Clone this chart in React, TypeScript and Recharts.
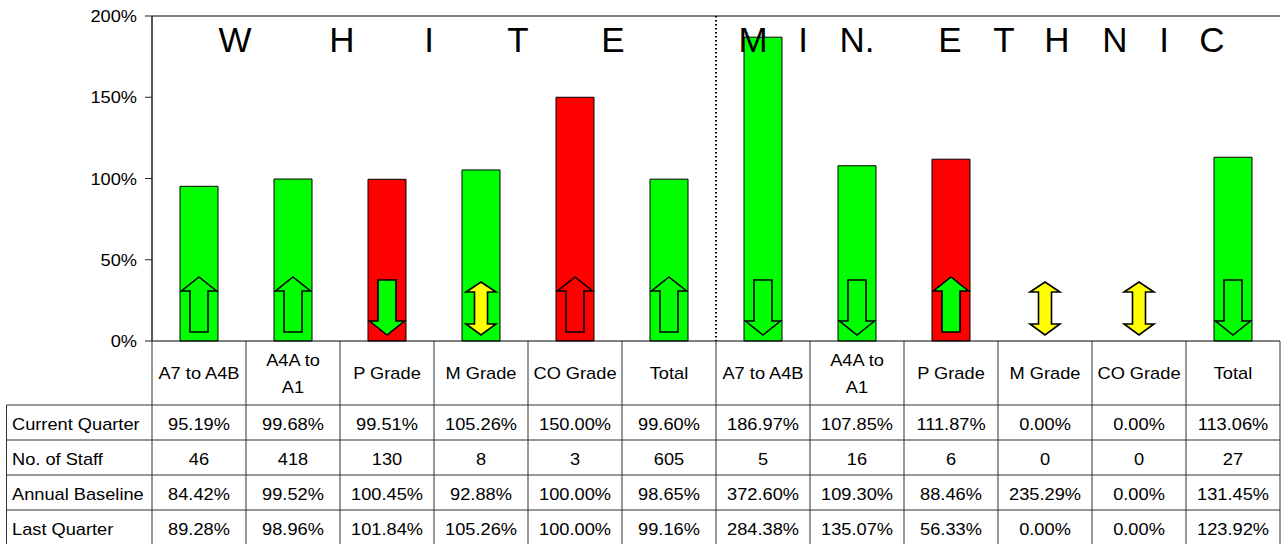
import React from 'react';
import { ComposedChart, Bar, Cell, Scatter, XAxis, YAxis, ReferenceLine } from 'recharts';

// ---------- data ----------
const categories = [
  'A7 to A4B', 'A4A to A1', 'P Grade', 'M Grade', 'CO Grade', 'Total',
  'A7 to A4B', 'A4A to A1', 'P Grade', 'M Grade', 'CO Grade', 'Total',
];
const currentQuarter = [95.19, 99.68, 99.51, 105.26, 150.0, 99.6, 186.97, 107.85, 111.87, 0.0, 0.0, 113.06];
const noOfStaff = [46, 418, 130, 8, 3, 605, 5, 16, 6, 0, 0, 27];
const annualBaseline = [84.42, 99.52, 100.45, 92.88, 100.0, 98.65, 372.6, 109.3, 88.46, 235.29, 0.0, 131.45];
const lastQuarter = [89.28, 98.96, 101.84, 105.26, 100.0, 99.16, 284.38, 135.07, 56.33, 0.0, 0.0, 123.92];
const barStatus = ['green', 'green', 'red', 'green', 'red', 'green', 'green', 'green', 'red', 'none', 'none', 'green'];
const arrowDirection = ['up', 'up', 'down', 'both', 'up', 'up', 'down', 'down', 'up', 'both', 'both', 'down'];
const arrowStatus = ['green', 'green', 'green', 'yellow', 'red', 'green', 'green', 'green', 'green', 'yellow', 'yellow', 'green'];
const yTicks = [0, 50, 100, 150, 200];
const rowLabels = ['Current Quarter', 'No. of Staff', 'Annual Baseline', 'Last Quarter'];
const groupWhite = ['W', 'H', 'I', 'T', 'E'];
const groupEthnic = ['M', 'I', 'N.', 'E', 'T', 'H', 'N', 'I', 'C'];

// ---------- styling / layout ----------
const FONT = "Arial, 'Liberation Sans', sans-serif";
const COLORS: Record<string, string> = { green: '#00FF00', red: '#FF0000', yellow: '#FFFF00' };
const W = 1282;
const H = 544;
const PLOT_LEFT = 152;
const PLOT_RIGHT = 1280;
const PLOT_TOP = 16;
const AXIS_Y = 341;
const BAND = (PLOT_RIGHT - PLOT_LEFT) / categories.length;
const HEADER_BOTTOM = 405;
const ROW_LINES = [405, 440, 475, 510, 545];
const TABLE_LEFT = 6.5;
const LINE = '#303030';
const STRETCH = 1.14;
const WHITE_X = [235, 342, 429, 518, 613];
const ETHNIC_X = [753, 803, 857, 950, 1004, 1057, 1115, 1164, 1212];
const WRAP: Record<string, string[]> = { 'A4A to A1': ['A4A to', 'A1'] };

const data = categories.map((c, i) => ({
  id: String(i),
  idx: i,
  label: c,
  current: currentQuarter[i],
  arrowBase: 0,
}));

const pct = (v: number) => `${v.toFixed(2)}%`;

function rowValues(i: number): string[] {
  return [pct(currentQuarter[i]), String(noOfStaff[i]), pct(annualBaseline[i]), pct(lastQuarter[i])];
}

// horizontally stretched text, like the reference rendering
const ST = ({ x, y, anchor = 'middle', children }: any) => (
  <text
    transform={`translate(${x},${y}) scale(${STRETCH},1)`}
    x={0}
    y={0}
    textAnchor={anchor}
    fontSize={16}
    fontFamily={FONT}
    fill="#000"
  >
    {children}
  </text>
);

const YTick = (props: any) => {
  const { x, y, payload } = props;
  return <ST x={x} y={y + 6} anchor="end">{`${payload.value}%`}</ST>;
};

const TableTick = (props: any) => {
  const { x, payload } = props;
  const i = Number(payload?.value ?? props.index);
  const left = x - BAND / 2;
  const right = x + BAND / 2;
  const label = categories[i];
  const lines = WRAP[label] || [label];
  const vals = rowValues(i);
  const els: any[] = [];

  els.push(<line key="vl" x1={left} y1={AXIS_Y} x2={left} y2={ROW_LINES[4]} stroke={LINE} strokeWidth={1} />);
  if (i === categories.length - 1) {
    els.push(<line key="vr" x1={right} y1={AXIS_Y} x2={right} y2={ROW_LINES[4]} stroke={LINE} strokeWidth={1} />);
  }
  ROW_LINES.forEach((ry, k) => {
    els.push(<line key={'h' + k} x1={left} y1={ry} x2={right} y2={ry} stroke={LINE} strokeWidth={1} />);
  });
  const headerMid = (AXIS_Y + HEADER_BOTTOM) / 2;
  if (lines.length === 1) {
    els.push(<ST key="hd" x={x} y={headerMid + 6}>{lines[0]}</ST>);
  } else {
    lines.forEach((ln, k) => {
      els.push(<ST key={'hd' + k} x={x} y={headerMid - 7 + k * 27}>{ln}</ST>);
    });
  }
  vals.forEach((v, k) => {
    const mid = (ROW_LINES[k] + ROW_LINES[k + 1]) / 2;
    els.push(<ST key={'v' + k} x={x} y={mid + 7}>{v}</ST>);
  });

  if (i === 0) {
    els.push(<line key="tl" x1={TABLE_LEFT} y1={HEADER_BOTTOM} x2={TABLE_LEFT} y2={ROW_LINES[4]} stroke={LINE} strokeWidth={1} />);
    ROW_LINES.forEach((ry, k) => {
      els.push(<line key={'lh' + k} x1={TABLE_LEFT} y1={ry} x2={left} y2={ry} stroke={LINE} strokeWidth={1} />);
    });
    rowLabels.forEach((r, k) => {
      const mid = (ROW_LINES[k] + ROW_LINES[k + 1]) / 2;
      els.push(<ST key={'rl' + k} x={12} y={mid + 7} anchor="start">{r}</ST>);
    });
    groupWhite.forEach((ch, k) => {
      els.push(
        <text key={'gw' + k} x={WHITE_X[k]} y={52} textAnchor="middle" fontSize={35} fontFamily={FONT} fill="#000">
          {ch}
        </text>
      );
    });
  }
  if (i === 6) {
    els.push(
      <line key="sep" x1={left} y1={PLOT_TOP} x2={left} y2={AXIS_Y} stroke="#000" strokeWidth={2} strokeDasharray="1.5 2.5" />
    );
    groupEthnic.forEach((ch, k) => {
      els.push(
        <text key={'ge' + k} x={ETHNIC_X[k]} y={52} textAnchor="middle" fontSize={35} fontFamily={FONT} fill="#000">
          {ch}
        </text>
      );
    });
  }
  return <g>{els}</g>;
};

const ArrowShape = (props: any) => {
  const { cx, cy, payload } = props;
  if (cx == null || cy == null || !payload) return <g />;
  const i = payload.idx;
  const dir = arrowDirection[i];
  const fill = COLORS[arrowStatus[i]];
  const b = cy;
  let d = '';
  if (dir === 'up') {
    const hw = 17.5, sw = 9;
    d = `M${cx},${b - 64} L${cx + hw},${b - 50} L${cx + sw},${b - 50} L${cx + sw},${b - 9} L${cx - sw},${b - 9} L${cx - sw},${b - 50} L${cx - hw},${b - 50} Z`;
  } else if (dir === 'down') {
    const hw = 17.5, sw = 9;
    d = `M${cx},${b - 6} L${cx + hw},${b - 20} L${cx + sw},${b - 20} L${cx + sw},${b - 61} L${cx - sw},${b - 61} L${cx - sw},${b - 20} L${cx - hw},${b - 20} Z`;
  } else {
    const hw = 15, sw = 6.5;
    d = `M${cx},${b - 59} L${cx + hw},${b - 49} L${cx + sw},${b - 49} L${cx + sw},${b - 17} L${cx + hw},${b - 17} L${cx},${b - 6} L${cx - hw},${b - 17} L${cx - sw},${b - 17} L${cx - sw},${b - 49} L${cx - hw},${b - 49} Z`;
  }
  return <path d={d} fill={fill} stroke="#000" strokeWidth={1.6} strokeLinejoin="miter" />;
};

export default function App() {
  return (
    <div style={{ position: 'absolute', left: 0, top: 0, width: W, height: H, background: '#fff' }}>
      <ComposedChart
        width={W}
        height={H}
        data={data}
        margin={{ top: PLOT_TOP, right: W - PLOT_RIGHT, left: 0, bottom: 0 }}
        barCategoryGap={0}
      >
        <XAxis
          dataKey="id"
          type="category"
          interval={0}
          tickLine={false}
          axisLine={{ stroke: '#000', strokeWidth: 1 }}
          height={H - AXIS_Y}
          tick={<TableTick />}
        />
        <YAxis
          type="number"
          domain={[0, 200]}
          ticks={yTicks}
          width={PLOT_LEFT}
          tickSize={7}
          tickMargin={8}
          axisLine={{ stroke: '#202020', strokeWidth: 1.5 }}
          tickLine={{ stroke: '#202020' }}
          tick={<YTick />}
        />
        <ReferenceLine y={200} stroke="#000" strokeWidth={1} />
        <Bar dataKey="current" barSize={38} isAnimationActive={false} stroke="#000" strokeWidth={1}>
          {data.map((d, i) => (
            <Cell key={d.id} fill={COLORS[barStatus[i]] || 'none'} />
          ))}
        </Bar>
        <Scatter dataKey="arrowBase" isAnimationActive={false} shape={ArrowShape} />
      </ComposedChart>
    </div>
  );
}
